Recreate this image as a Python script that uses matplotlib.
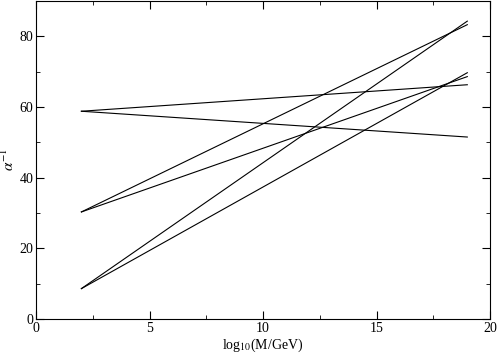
import matplotlib.pyplot as plt
from matplotlib.ticker import MultipleLocator

plt.rcParams["font.family"] = ["Liberation Serif", "DejaVu Serif"]
plt.rcParams["mathtext.fontset"] = "stix"

# log10(M/GeV) range of the running
x_start = 2
x_end = 19

# inverse couplings at start and end (two scenarios)
alpha_start = [58.8, 58.8, 30.3, 30.3, 8.6, 8.6]
alpha_end = [66.3, 51.5, 83.3, 68.6, 84.3, 69.7]

fig = plt.figure(figsize=(4.98, 3.53), dpi=100)
ax = fig.add_axes([36 / 498, 34 / 353, 454 / 498, 318 / 353])

for a0, a1 in zip(alpha_start, alpha_end):
    ax.plot([x_start, x_end], [a0, a1], color="black", lw=0.8)

ax.set_xlim(0, 20)
ax.set_ylim(0, 90)
ax.xaxis.set_major_locator(MultipleLocator(5))
ax.xaxis.set_minor_locator(MultipleLocator(2.5))
ax.yaxis.set_major_locator(MultipleLocator(20))
ax.yaxis.set_minor_locator(MultipleLocator(10))
ax.tick_params(which="both", direction="in", top=True, right=True, labelsize=10, pad=2)
ax.tick_params(which="major", length=6)
ax.tick_params(which="minor", length=3)

ax.set_xlabel(r"log$_{10}$(M/GeV)", fontsize=10, va="center")
ax.xaxis.set_label_coords(0.5, -0.083)
ax.set_ylabel(r"$\alpha^{-1}$", fontsize=11, va="center")
ax.yaxis.set_label_coords(-0.062, 0.5)

fig.savefig("out.png", dpi=100)
